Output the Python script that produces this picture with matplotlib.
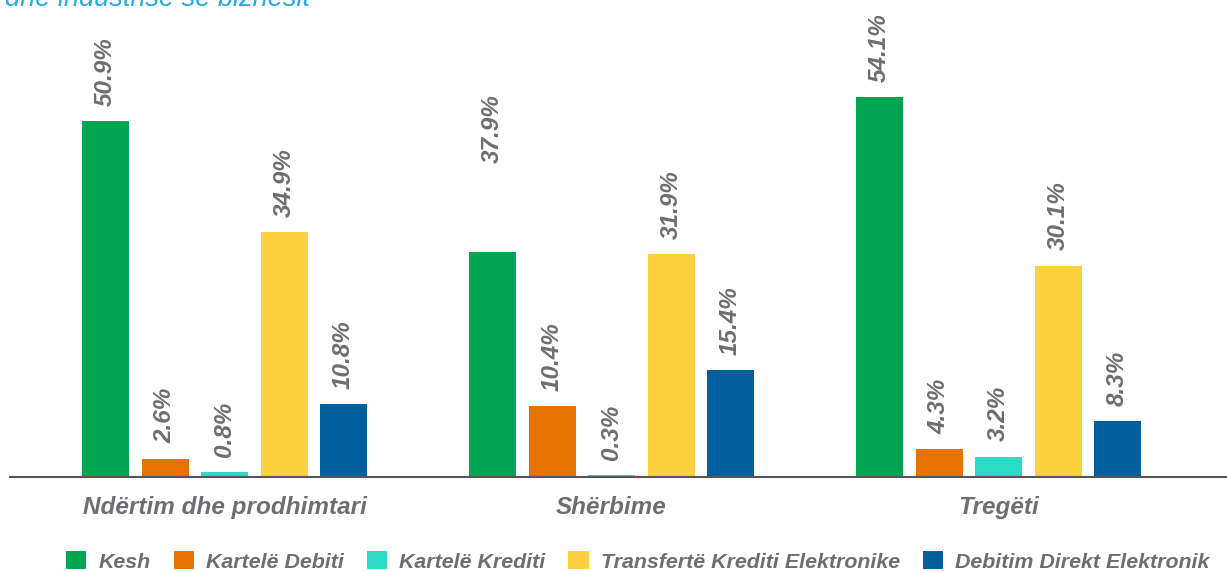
import matplotlib.pyplot as plt
import numpy as np
from matplotlib.patches import Patch

plt.rcParams['font.family'] = ['Liberation Sans', 'DejaVu Sans']

categories = ["Ndërtim dhe prodhimtari", "Shërbime", "Tregëti"]
series = ["Kesh", "Kartelë Debiti", "Kartelë Krediti",
          "Transfertë Krediti Elektronike", "Debitim Direkt Elektronik"]
colors = ["#00A651", "#E87200", "#2BD9C6", "#FCD03E", "#005F9E"]

# drawn bar heights (%), one list per series across the three categories
kesh = [50.7, 32.1, 54.1]
debiti = [2.6, 10.1, 4.0]
krediti = [0.7, 0.3, 2.9]
transferte = [34.9, 31.7, 30.1]
debitim = [10.4, 15.2, 8.0]

# printed labels
lbl_kesh = ["50.9%", "37.9%", "54.1%"]
lbl_debiti = ["2.6%", "10.4%", "4.3%"]
lbl_krediti = ["0.8%", "0.3%", "3.2%"]
lbl_transferte = ["34.9%", "31.9%", "30.1%"]
lbl_debitim = ["10.8%", "15.4%", "8.3%"]

values = [kesh, debiti, krediti, transferte, debitim]
labels = [lbl_kesh, lbl_debiti, lbl_krediti, lbl_transferte, lbl_debitim]

gray = "#6D6E71"
W, H = 1227, 571
fig = plt.figure(figsize=(W / 100, H / 100), dpi=100)
ax = fig.add_axes([10 / W, 94 / H, 1 - 10 / W, 1 - 94 / H])

step = 59.5 / 387
width = 47 / 387
x = np.arange(len(categories))
for i, (vals, lbls) in enumerate(zip(values, labels)):
    pos = x + (i - 2) * step
    ax.bar(pos, vals, width=width, color=colors[i], label=series[i])
    for j, (p, v, t) in enumerate(zip(pos, vals, lbls)):
        lift = 11
        if (i, j) == (0, 1):
            lift = 64  # label sits well above this bar in the original
        ax.annotate(t, (p, v), xytext=(0, lift), textcoords="offset points",
                    rotation=90, ha="center", va="bottom", fontsize=17.5,
                    fontweight="bold", fontstyle="italic", color=gray)

ax.set_xlim(-214.5 / 387, 1217 / 387 - 214.5 / 387)
ax.set_ylim(0, 477 / 7.02)
ax.set_xticks(x)
ax.set_xticklabels(categories, fontsize=17.5, fontweight="bold",
                   fontstyle="italic", color=gray)
ax.tick_params(axis="x", length=0, pad=14)
ax.set_yticks([])
for s in ["top", "right", "left"]:
    ax.spines[s].set_visible(False)
ax.spines["bottom"].set_color("#555555")
ax.spines["bottom"].set_linewidth(1.5)

fig.text(5 / W, 1 - 6 / H, "dhe industrisë së biznesit", fontsize=19.5,
         fontstyle="italic", color="#29ABE2", ha="left", va="baseline")

handles = [Patch(facecolor=c, label=s) for c, s in zip(colors, series)]
leg = fig.legend(handles=handles, loc="upper left", ncol=5,
                 bbox_to_anchor=(66 / W, 1 - 551 / H), frameon=False,
                 prop={"size": 15.4, "weight": "bold", "style": "italic"},
                 handlelength=0.95, handleheight=0.95, handletextpad=0.56,
                 columnspacing=1.08, borderaxespad=0, borderpad=0)
for t in leg.get_texts():
    t.set_color(gray)

fig.savefig("out.png", dpi=100)
